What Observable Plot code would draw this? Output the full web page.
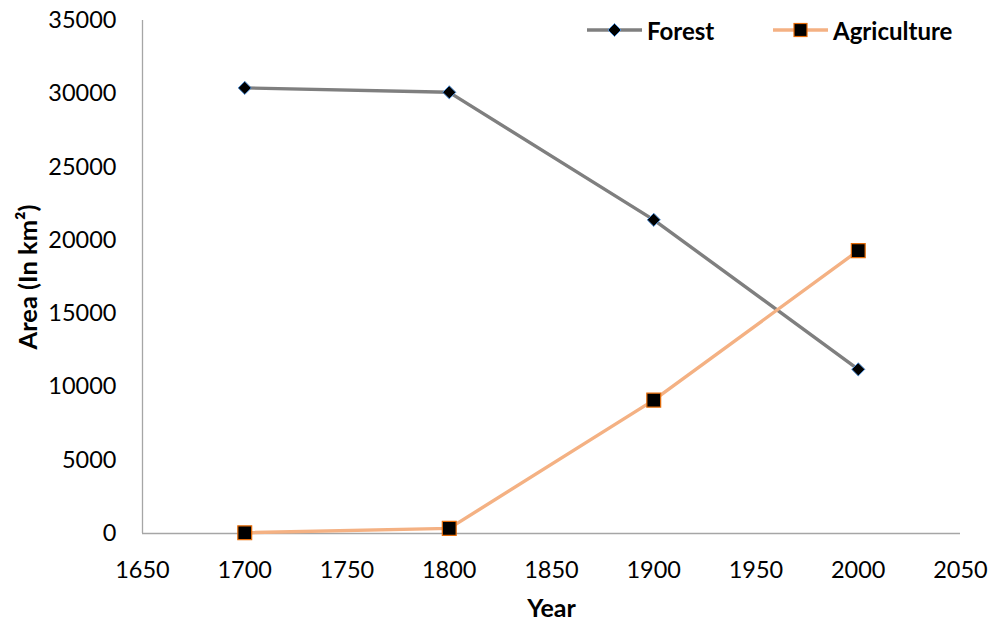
<!DOCTYPE html>
<html>
<head>
<meta charset="utf-8">
<script src="https://cdn.jsdelivr.net/npm/d3@7"></script>
<script src="https://cdn.jsdelivr.net/npm/@observablehq/plot@0.6"></script>
<style>
  body { margin: 0; background: #fff; }
  #chart { position: relative; width: 990px; height: 626px; font-family: Lato, sans-serif; color: #000; }
  .key { position: absolute; top: 16px; height: 28px; display: flex; align-items: center; font: bold 24px Lato, sans-serif; }
  .key svg { margin-right: 5px; }
</style>
</head>
<body>
<div id="chart"></div>
<script>
// Land use over three centuries
const years = [1700, 1800, 1900, 2000];
const forest = [30400, 30100, 21400, 11200];
const agriculture = [50, 350, 9100, 19300];
const seriesNames = ["Forest", "Agriculture"];
const xTicks = [1650, 1700, 1750, 1800, 1850, 1900, 1950, 2000, 2050];
const yTicks = [0, 5000, 10000, 15000, 20000, 25000, 30000, 35000];

const forestRows = years.map((year, i) => ({year, area: forest[i], series: seriesNames[0]}));
const agriRows = years.map((year, i) => ({year, area: agriculture[i], series: seriesNames[1]}));

const lineColors = ["#7f7f7f", "#f4b183"];

const chart = Plot.plot({
  width: 990,
  height: 626,
  marginLeft: 142,
  marginRight: 30,
  marginTop: 20,
  marginBottom: 93,
  style: {fontFamily: "Lato, sans-serif", fontSize: "23.5px", color: "#000", background: "#fff"},
  x: {domain: [1650, 2050]},
  y: {domain: [0, 35000]},
  color: {domain: seriesNames, range: lineColors},
  marks: [
    Plot.axisX({ticks: xTicks, tickSize: 0, tickPadding: 28, tickFormat: d => String(d), label: null}),
    Plot.axisY({ticks: yTicks, tickSize: 0, tickPadding: 26, tickFormat: d => String(d), label: null}),
    Plot.ruleX([1650], {stroke: "#a6a6a6", strokeWidth: 1.3}),
    Plot.ruleY([0], {stroke: "#a6a6a6", strokeWidth: 1.3}),
    Plot.text(["Year"], {frameAnchor: "bottom", dy: 83, fontWeight: "bold", fontSize: 25}),
    Plot.text(["Area (In km²)"], {frameAnchor: "left", textAnchor: "middle", dx: -114, rotate: -90, fontWeight: "bold", fontSize: 25.5}),
    Plot.line(forestRows, {x: "year", y: "area", stroke: "series", strokeWidth: 3.4}),
    Plot.dot(forestRows, {x: "year", y: "area", symbol: "diamond2", r: 5.9, fill: "#000", stroke: "#4f8fd6", strokeWidth: 1}),
    Plot.line(agriRows, {x: "year", y: "area", stroke: "series", strokeWidth: 3.4}),
    Plot.dot(agriRows, {x: "year", y: "area", symbol: "square", r: 7.8, fill: "#000", stroke: "#e46c0a", strokeWidth: 1.2})
  ]
});

const root = document.getElementById("chart");
root.appendChild(chart);

// Legend keys drawn over the top of the plot area
function key(left, name, color, marker) {
  const div = document.createElement("div");
  div.className = "key";
  div.style.left = left + "px";
  div.innerHTML = `<svg width="55" height="16" viewBox="0 0 55 16">
      <line x1="0" y1="8" x2="55" y2="8" stroke="${color}" stroke-width="3.4"/>
      ${marker}
    </svg><span>${name}</span>`;
  root.appendChild(div);
}
key(587, seriesNames[0], lineColors[0],
  `<polygon points="27.5,1.5 34,8 27.5,14.5 21,8" fill="#000" stroke="#4f8fd6" stroke-width="1"/>`);
key(773, seriesNames[1], lineColors[1],
  `<rect x="21" y="1.5" width="13" height="13" fill="#000" stroke="#e46c0a" stroke-width="1.2"/>`);
</script>
</body>
</html>
